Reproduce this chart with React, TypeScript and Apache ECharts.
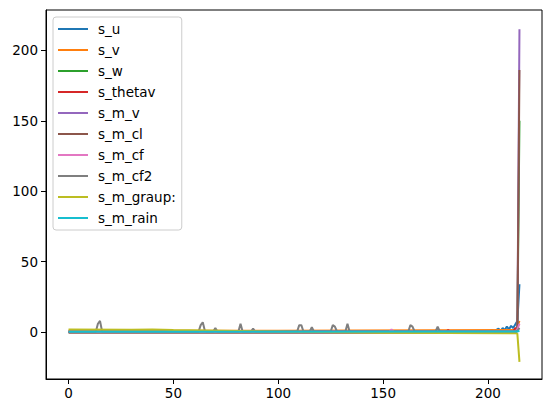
import React, { useEffect, useRef } from "react";
import * as echarts from "echarts";

const seriesNames = ["s_u", "s_v", "s_w", "s_thetav", "s_m_v", "s_m_cl", "s_m_cf", "s_m_cf2", "s_m_graup:", "s_m_rain"];
const colors = ["#1f77b4", "#ff7f0e", "#2ca02c", "#d62728", "#9467bd", "#8c564b", "#e377c2", "#7f7f7f", "#bcbd22", "#17becf"];

const sU = [[0, 0.3], [100, 0.3], [200, 0.5], [202, 1.5], [203, 0.8], [205, 2.5], [206, 1], [207, 3], [208, 1.5], [209, 4], [210, 2], [211, 4.5], [212, 3], [213, 5.5], [214, 8], [215, 34]];
const sV = [[0, 1.0], [100, 1.0], [213, 1.5], [214, 4], [215, 8]];
const sW = [[0, 0.2], [212, 0.3], [213, 1], [214, 3], [215, 150]];
const sThetav = [[0, 0.3], [180, 0.3], [181, 1.5], [182, 0.3], [212, 0.5], [213, 3], [214, 2], [215, 3]];
const sMV = [[0, 0.5], [213, 0.5], [214, 2], [215, 215]];
const sMCl = [[0, -0.3], [213, -0.3], [214, 1], [215, 186]];
const sMCf = [[0, 0.3], [153, 0.3], [154, 2], [155, 0.3], [213, 0.5], [214, 2], [215, 6]];
const sMCf2 = [[0, 0.3], [13, 0.3], [14, 6], [15, 8], [16, 0.5], [62, 0.4], [63, 5], [64, 7], [65, 1], [66, 0.5], [69, 0.5], [70, 3], [71, 0.5], [81, 0.5], [82, 6], [83, 0.5], [87, 0.5], [88, 2.5], [89, 0.5], [109, 0.5], [110, 5], [111, 5], [112, 0.5], [115, 0.5], [116, 3.5], [117, 0.5], [125, 0.5], [126, 5], [127, 4], [128, 0.5], [132, 0.5], [133, 6], [134, 0.5], [162, 0.5], [163, 5], [164, 4], [165, 0.5], [175, 0.5], [176, 4], [177, 0.5], [213, 0.5], [214, 1], [215, 3]];
const sMGraup = [[0, 2], [30, 1.8], [40, 2], [50, 1.5], [100, 0.5], [150, -0.3], [213, -0.8], [214, -1], [215, -21]];
const sMRain = [[0, 0.3], [214, 0.5], [215, 1]];

const allData = [sU, sV, sW, sThetav, sMV, sMCl, sMCf, sMCf2, sMGraup, sMRain];
const xTicks = [0, 50, 100, 150, 200];
const yTicks = [0, 50, 100, 150, 200];

export default function App() {
  const ref = useRef<HTMLDivElement>(null);
  useEffect(() => {
    if (!ref.current) return;
    const chart = echarts.init(ref.current, null, { renderer: "svg" });
    const font = "DejaVu Sans";
    chart.setOption({
      animation: false,
      backgroundColor: "#fff",
      textStyle: { fontFamily: font },
      grid: { left: 46, right: 10, top: 10, bottom: 34, show: true, borderColor: "#000", borderWidth: 1, backgroundColor: "transparent" },
      legend: {
        orient: "vertical",
        left: 53,
        top: 17,
        data: seriesNames,
        icon: "rect",
        itemWidth: 30,
        itemHeight: 2,
        itemGap: 7,
        padding: [5, 6, 5, 5],
        backgroundColor: "#fff",
        borderColor: "#ccc",
        borderWidth: 1,
        borderRadius: 3,
        textStyle: { fontFamily: font, fontSize: 13.5, color: "#000", lineHeight: 14, padding: [0, 0, 0, 5] },
      },
      xAxis: {
        type: "value",
        min: -10.75,
        max: 225.75,
        axisLine: { show: true, onZero: false, lineStyle: { color: "#000" } },
        axisTick: { show: true, length: 5, customValues: xTicks, lineStyle: { color: "#000" } },
        axisLabel: { customValues: xTicks, fontSize: 13.5, color: "#000", margin: 7, fontFamily: font },
        splitLine: { show: false },
      },
      yAxis: {
        type: "value",
        min: -33.2,
        max: 228.6,
        axisLine: { show: true, onZero: false, lineStyle: { color: "#000" } },
        axisTick: { show: true, length: 5, customValues: yTicks, lineStyle: { color: "#000" } },
        axisLabel: { customValues: yTicks, fontSize: 13.5, color: "#000", margin: 8, fontFamily: font },
        splitLine: { show: false },
      },
      series: seriesNames.map((name, i) => ({
        name,
        type: "line",
        data: allData[i],
        showSymbol: false,
        symbol: "none",
        color: colors[i],
        lineStyle: { width: 2, color: colors[i] },
      })),
    });
    return () => chart.dispose();
  }, []);
  return <div ref={ref} style={{ width: 552, height: 413, position: "absolute", left: 0, top: 0 }} />;
}
